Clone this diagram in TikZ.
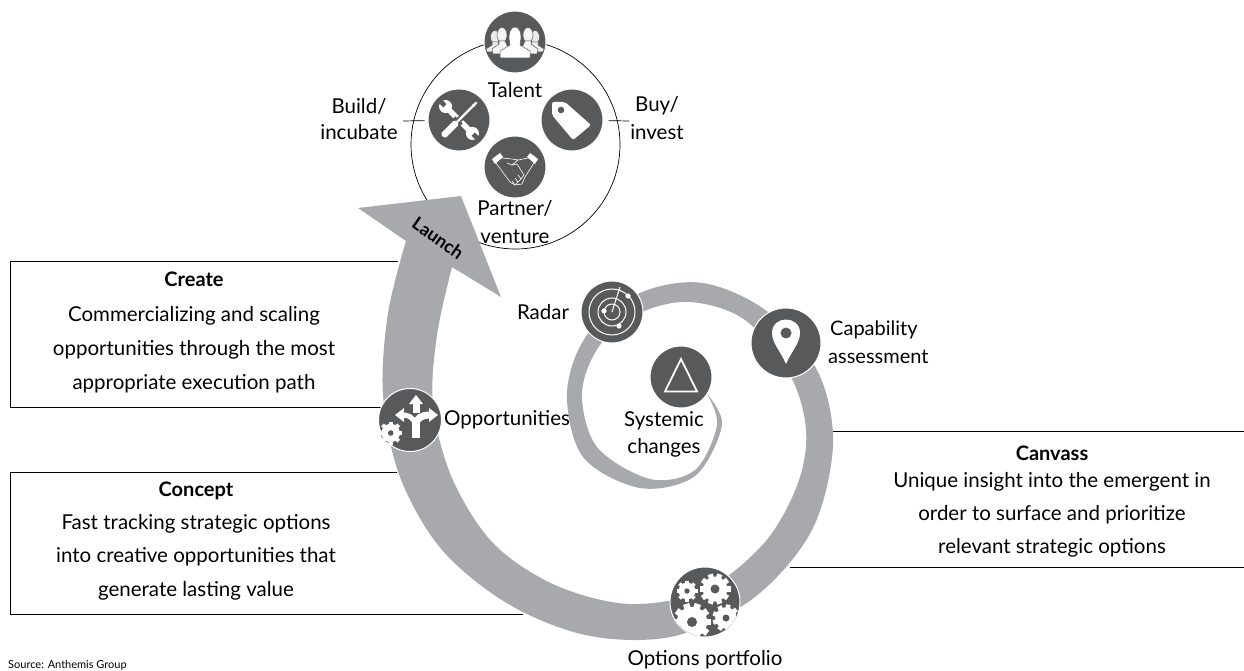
\documentclass[tikz,border=0pt]{standalone}
\usepackage{fontspec}
\setmainfont{Lato}
\definecolor{band}{HTML}{A7A9AC}
\definecolor{dark}{HTML}{58595B}
\newcommand{\fs}{\fontsize{20.5}{24}\selectfont}
\newcommand{\fh}{\bfseries\fontsize{20}{24}\selectfont}
\newcommand{\mygear}[5]{% x y r teeth hole
  \begin{scope}[shift={(#1,#2)}]
    \fill[dark] (0,0) circle[radius=#3*0.86];
    \foreach \a in {1,...,#4}{
      \fill[white,rotate={\a*360/#4}] (#3*0.7,-#3*0.17) rectangle (#3,#3*0.17);
    }
    \fill[white] (0,0) circle[radius=#3*0.8];
    \fill[dark] (0,0) circle[radius=#5];
  \end{scope}}
\tikzset{
  icon/.style={circle,fill=dark,draw=white,line width=1pt,minimum size=#1,inner sep=0pt},
  lbl/.style={font=\fs,text=black,inner sep=0pt,align=center},
  ln/.style={draw=black,line width=0.7pt},
  fig/.style={draw=dark,line width=.5pt}
}
\begin{document}
\begin{tikzpicture}[x=1pt,y=-1pt]
\useasboundingbox (0,0) rectangle (1244,671);
% anchor coordinates
\coordinate (ca) at (398,261); \coordinate (cb) at (10,261); \coordinate (cc) at (10,407); \coordinate (cd) at (385,407);
\coordinate (da) at (397,472); \coordinate (db) at (10,472); \coordinate (dc) at (10,614); \coordinate (dd) at (523,614);
\coordinate (ea) at (833,431); \coordinate (eb) at (1244,431);
\coordinate (ec) at (790,567); \coordinate (ed) at (1244,567);
\draw[ln] (ca) -- (cb) -- (cc) -- (cd);
\draw[ln] (da) -- (db) -- (dc) -- (dd);
\draw[ln] (ea) -- (eb);
\draw[ln] (ec) -- (ed);
% big circle
\node[circle,draw=black,line width=0.7pt,minimum size=209pt,inner sep=0pt] (ring) at (515.5,144.5) {};
% spiral with arrow
\fill[band] (358,208) -- (461,196) -- (501,297) -- (452,267)
  -- plot[smooth,tension=0.55] coordinates {(452,267) (437,335) (433,405) (452,478) (493,543) (555,585) (630,604) (705,590) (765,542) (798,483) (806,430) (790,375) (745,320) (690,302) (640,313) (600,345) (582,393) (597,447) (650,479) (695,470) (717,425) (707,394)}
  -- plot[smooth,tension=0.55] coordinates {(707,394) (722,425) (695,476) (640,488) (583,457) (567,393) (587,335) (640,293) (703,283) (768,312) (818,372) (833,445) (812,530) (755,597) (675,636) (590,636) (510,605) (442,550) (400,477) (383,395) (388,313) (406,241)}
  -- cycle;
% icon circles
\node[icon=62pt] (talent) at (515,42) {};
\node[icon=62pt] (build) at (459,120) {};
\node[icon=62pt] (buy) at (572,120) {};
\node[icon=62pt] (partner) at (515,167) {};
\node[icon=62pt] (radar) at (612,312) {};
\node[icon=70pt] (cap) at (786,343) {};
\node[icon=62pt] (sys) at (681,377) {};
\node[icon=63pt] (opp) at (410,420) {};
\node[icon=70pt] (gear) at (705,602) {};
% ticks
\coordinate (bt) at (403,121); \coordinate (yt) at (629,121);
\draw[ln,shorten >=3pt] (bt) -- (build);
\draw[ln,shorten >=5pt] (yt) -- (buy);
% Talent icon
\begin{scope}[shift={(talent.center)}]
  \foreach \s in {-1,1}{
    \begin{scope}[xscale=\s]
      \fill[white!88!dark,fig] (20,-5) circle[x radius=4.5,y radius=6.5];
      \fill[white!88!dark,fig] (17,0) -- (23,0) -- (23,3) -- (29,7) -- (28,10) -- (12,10) -- cycle;
      \fill[white!94!dark,fig] (13,-7) circle[x radius=5,y radius=7.5];
      \fill[white!94!dark,fig] (10,-1) -- (16,-1) -- (16,2) -- (23,7) -- (22,12) -- (4,12) -- cycle;
    \end{scope}
  }
  \fill[white,fig] (-5.5,0) .. controls (-9,-20) and (9,-20) .. (5.5,0) -- (5,3) -- (15,9) -- (15,16) -- (-15,16) -- (-15,9) -- (-5,3) -- cycle;
\end{scope}
% Build icon: wrench + screwdriver
\begin{scope}[shift={(build.center)}]
  \begin{scope}[rotate=45]
    \fill[white] (-2.7,-18) rectangle (2.7,18);
    \fill[white] (0,-19) circle[radius=6.5];
    \fill[white] (0,19) circle[radius=6.5];
    \fill[dark] (-2.3,-27) rectangle (2.3,-20);
    \fill[dark] (-2.3,20) rectangle (2.3,27);
  \end{scope}
  \begin{scope}[rotate=-45]
    \fill[dark] (-3,-21) rectangle (3,0);
    \fill[dark] (-5,0) rectangle (5,24);
    \fill[white] (-1.2,-21) rectangle (1.2,3);
    \fill[white,rounded corners=1.5pt] (-3.2,3) rectangle (3.2,23);
    \fill[white] (-1,-25) -- (1,-25) -- (1.4,-20) -- (-1.4,-20) -- cycle;
  \end{scope}
\end{scope}
% Buy icon: tag
\begin{scope}[shift={(buy.center)}]
  \fill[white,rounded corners=2pt] (-20,-18) -- (-7,-18) -- (19,5) -- (1,20) -- (-20,-5) -- cycle;
  \fill[dark] (-11,-10) circle[radius=3.3];
\end{scope}
% Partner icon: handshake
\begin{scope}[shift={(partner.center)},line width=.6pt,white,line join=round]
  \fill[white] (-23,-8) -- (-15,-14) -- (-12,-10) -- (-20,-3) -- cycle;
  \fill[white] (23,-8) -- (15,-14) -- (12,-10) -- (20,-3) -- cycle;
  \draw (-19,-4) -- (-5,15) -- (0,18) -- (7,17) -- (10,10) -- (19,-4);
  \draw (-13,-9) -- (-3,-8) -- (3,-7) -- (-3,-2) -- (-8,-4);
  \draw (3,-7) -- (13,-9);
  \draw (-3,-2) -- (2,-3) -- (9,8) -- (6,12) -- (3,8);
  \draw (6,12) -- (3,15) -- (0,11);
  \draw (3,15) -- (0,18) -- (-3,14);
\end{scope}
% Radar icon
\begin{scope}[shift={(radar.center)},white,line width=1pt]
  \draw (0,0) circle[radius=8];
  \draw (0,0) circle[radius=14];
  \draw (0,0) circle[radius=23];
  \draw (0,0) -- (8,-25);
  \fill (16,-16) circle[radius=2.6];
  \fill (-8,-1) circle[radius=2.6];
  \fill (7,14) circle[radius=2.6];
\end{scope}
% Capability icon: pin
\begin{scope}[shift={(cap.center)}]
  \fill[white] (0,21) .. controls (-5,9) and (-14,0) .. (-14,-10) .. controls (-14,-28) and (14,-28) .. (14,-10) .. controls (14,0) and (5,9) .. (0,21) -- cycle;
  \fill[dark] (0,-10) circle[radius=5.5];
\end{scope}
% Systemic icon: triangle
\begin{scope}[shift={(sys.center)}]
  \draw[white,line width=1.8pt,line join=miter] (0,-18) -- (16,14.5) -- (-16,14.5) -- cycle;
\end{scope}
% Opportunities icon
\begin{scope}[shift={(416,415)}]
  \fill[white] (-4,23) rectangle (4,8);
  \fill[white] (-3.5,-12) rectangle (3.5,-2);
  \fill[white] (-7,-11) -- (0,-20) -- (7,-11) -- cycle;
  \draw[white,line width=7pt] (0,10) .. controls (0,3) and (6,0) .. (14,0);
  \fill[white] (13,-7) -- (22,0) -- (13,7) -- cycle;
  \draw[white,line width=5pt] (-1,8) .. controls (-3,3) and (-7,0) .. (-13,0);
  \fill[white] (-12,-7) -- (-21,0) -- (-12,7) -- cycle;
\end{scope}
\mygear{390.7}{433}{11.5}{8}{2.8}
% Gear icon
\begin{scope}
  \clip (gear) circle[radius=34.5];
  \mygear{692}{622}{19}{10}{5}
  \mygear{726}{618}{13.5}{9}{3.5}
\end{scope}
\mygear{715}{589}{15.5}{10}{4.5}
\mygear{687}{591}{10.5}{8}{2.7}
% Labels
\node[lbl] (t1) at (515,90) {Talent};
\node[lbl] (t2) at (359,106) {Build/};
\node[lbl] (t3) at (359,132) {incubate};
\node[lbl] (t4) at (657,106) {Buy/};
\node[lbl] (t5) at (657,132) {invest};
\node[lbl] (t6) at (515,208) {Partner/};
\node[lbl] (t7) at (515,237) {venture};
\node[lbl,rotate=-35,font=\bfseries\fontsize{18}{20}\selectfont] (launch) at (438,238) {Launch};
\node[lbl] (t8) at (543,312) {Radar};
\node[lbl,font=\fontsize{20}{24}\selectfont,anchor=west] (t9) at (830,330) {Capability};
\node[lbl,font=\fontsize{20}{24}\selectfont,anchor=west] (t10) at (828,357) {assessment};
\node[lbl,anchor=west] (t11) at (444,420) {Opportunities};
\node[lbl] (t12) at (664,421) {Systemic};
\node[lbl] (t13) at (664,448) {changes};
\node[lbl] (t14) at (705,660) {Options portfolio};
\node[lbl,font=\fh] (h1) at (194,279) {Create};
\node[lbl] (a1) at (194,316) {Commercializing and scaling};
\node[lbl] (a2) at (194,350) {opportunities through the most};
\node[lbl] (a3) at (194,384) {appropriate execution path};
\node[lbl,font=\fh] (h2) at (196,491) {Concept};
\node[lbl] (b1) at (196,524) {Fast tracking strategic options};
\node[lbl] (b2) at (196,557) {into creative opportunities that};
\node[lbl] (b3) at (196,591) {generate lasting value};
\node[lbl,font=\fh] (h3) at (1052,453) {Canvass};
\node[lbl] (c1) at (1052,482) {Unique insight into the emergent in};
\node[lbl] (c2) at (1052,515) {order to surface and prioritize};
\node[lbl] (c3) at (1052,548) {relevant strategic options};
\node[lbl,anchor=west,font=\fontsize{11}{13}\selectfont] (src) at (8,665) {Source: Anthemis Group};
\end{tikzpicture}
\end{document}
